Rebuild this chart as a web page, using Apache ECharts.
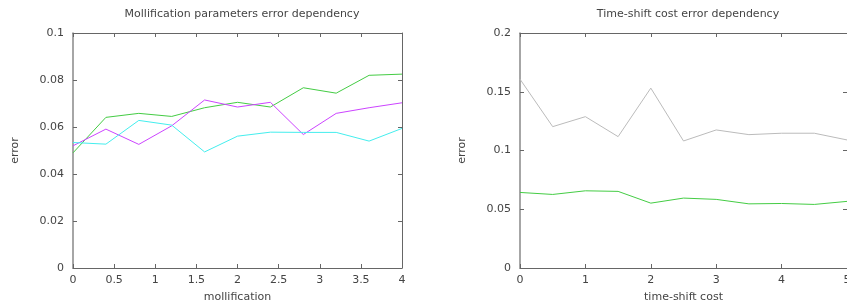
<!DOCTYPE html>
<html>
<head>
<meta charset="utf-8">
<script src="https://cdn.jsdelivr.net/npm/echarts@6/dist/echarts.min.js"></script>
<style>
  html, body { margin: 0; padding: 0; background: #fff; overflow: hidden; }
  #chart { width: 847px; height: 305px; }
</style>
</head>
<body>
<div id="chart"></div>
<script>
// left plot: mollification
const mollX = [0, 0.4, 0.8, 1.2, 1.6, 2, 2.4, 2.8, 3.2, 3.6, 4]
const mollGreen = [0.049, 0.0641, 0.0658, 0.0645, 0.0682, 0.0705, 0.0685, 0.0767, 0.0744, 0.082, 0.0825]
const mollMagenta = [0.052, 0.0591, 0.0526, 0.0605, 0.0715, 0.0685, 0.0705, 0.0568, 0.0658, 0.0682, 0.0703]
const mollCyan = [0.0534, 0.0527, 0.0628, 0.0608, 0.0494, 0.0561, 0.0578, 0.0577, 0.0577, 0.054, 0.0594]

// right plot: time-shift cost
const shiftX = [0, 0.5, 1, 1.5, 2, 2.5, 3, 3.5, 4, 4.5, 5]
const shiftGray = [0.1607, 0.1203, 0.1288, 0.1118, 0.1531, 0.1081, 0.1175, 0.1135, 0.1147, 0.1147, 0.109]
const shiftGreen = [0.0643, 0.0626, 0.0657, 0.0652, 0.0552, 0.0595, 0.0584, 0.0546, 0.0549, 0.0541, 0.0567]

const textColor = '#444'
const frameColor = '#666'
const font = 'DejaVu Sans'

const pairs = (xs, ys) => xs.map((x, i) => [x, ys[i]])

function frameAxis (gridIndex, position, min, max, interval) {
  return {
    gridIndex: gridIndex,
    type: 'value',
    position: position,
    min: min,
    max: max,
    interval: interval,
    axisLine: { show: true, onZero: false, lineStyle: { color: frameColor, width: 1 } },
    axisTick: { show: true, inside: true, length: 4, lineStyle: { color: frameColor } },
    axisLabel: { show: false },
    splitLine: { show: false }
  }
}

function mainX (gridIndex, max, interval, name) {
  return {
    gridIndex: gridIndex,
    type: 'value',
    min: 0,
    max: max,
    interval: interval,
    name: name,
    nameLocation: 'middle',
    nameGap: 24,
    nameTextStyle: { color: textColor, fontFamily: font, fontSize: 11 },
    axisLine: { show: true, onZero: false, lineStyle: { color: frameColor, width: 1 } },
    axisTick: { show: true, inside: true, length: 4, lineStyle: { color: frameColor } },
    axisLabel: { color: textColor, fontFamily: font, fontSize: 11, margin: 7 },
    splitLine: { show: false }
  }
}

function mainY (gridIndex, max, interval, nameGap) {
  return {
    gridIndex: gridIndex,
    type: 'value',
    min: 0,
    max: max,
    interval: interval,
    name: 'error',
    nameLocation: 'middle',
    nameGap: nameGap,
    nameTextStyle: { color: textColor, fontFamily: font, fontSize: 11 },
    axisLine: { show: true, onZero: false, lineStyle: { color: '#888', width: 1.5 } },
    axisTick: { show: true, inside: true, length: 4, lineStyle: { color: frameColor } },
    axisLabel: { color: textColor, fontFamily: font, fontSize: 11, margin: 9 },
    splitLine: { show: false }
  }
}

function line (xi, yi, data, color) {
  return {
    type: 'line',
    xAxisIndex: xi,
    yAxisIndex: yi,
    data: data,
    symbol: 'none',
    animation: false,
    lineStyle: { color: color, width: 1 },
    itemStyle: { color: color }
  }
}

const chart = echarts.init(document.getElementById('chart'))
chart.setOption({
  backgroundColor: '#fff',
  animation: false,
  title: [
    {
      text: 'Mollification parameters error dependency',
      left: 237, top: 4, textAlign: 'center',
      textStyle: { color: textColor, fontFamily: font, fontSize: 11, fontWeight: 'normal' }
    },
    {
      text: 'Time-shift cost error dependency',
      left: 683, top: 4, textAlign: 'center',
      textStyle: { color: textColor, fontFamily: font, fontSize: 11, fontWeight: 'normal' }
    }
  ],
  grid: [
    { left: 73, top: 33, width: 329, height: 235, outerBoundsMode: 'none', containLabel: false },
    { left: 520, top: 33, width: 327, height: 235, outerBoundsMode: 'none', containLabel: false }
  ],
  xAxis: [
    mainX(0, 4, 0.5, 'mollification'),
    mainX(1, 5, 1, 'time-shift cost'),
    frameAxis(0, 'top', 0, 4, 0.5),
    frameAxis(1, 'top', 0, 5, 1)
  ],
  yAxis: [
    mainY(0, 0.1, 0.02, 52),
    mainY(1, 0.2, 0.05, 52),
    frameAxis(0, 'right', 0, 0.1, 0.02),
    frameAxis(1, 'right', 0, 0.2, 0.05)
  ],
  series: [
    line(0, 0, pairs(mollX, mollGreen), '#44cc44'),
    line(0, 0, pairs(mollX, mollMagenta), '#cc44ff'),
    line(0, 0, pairs(mollX, mollCyan), '#44eeee'),
    line(1, 1, pairs(shiftX, shiftGray), '#bbbbbb'),
    line(1, 1, pairs(shiftX, shiftGreen), '#44cc44')
  ]
})
</script>
</body>
</html>
